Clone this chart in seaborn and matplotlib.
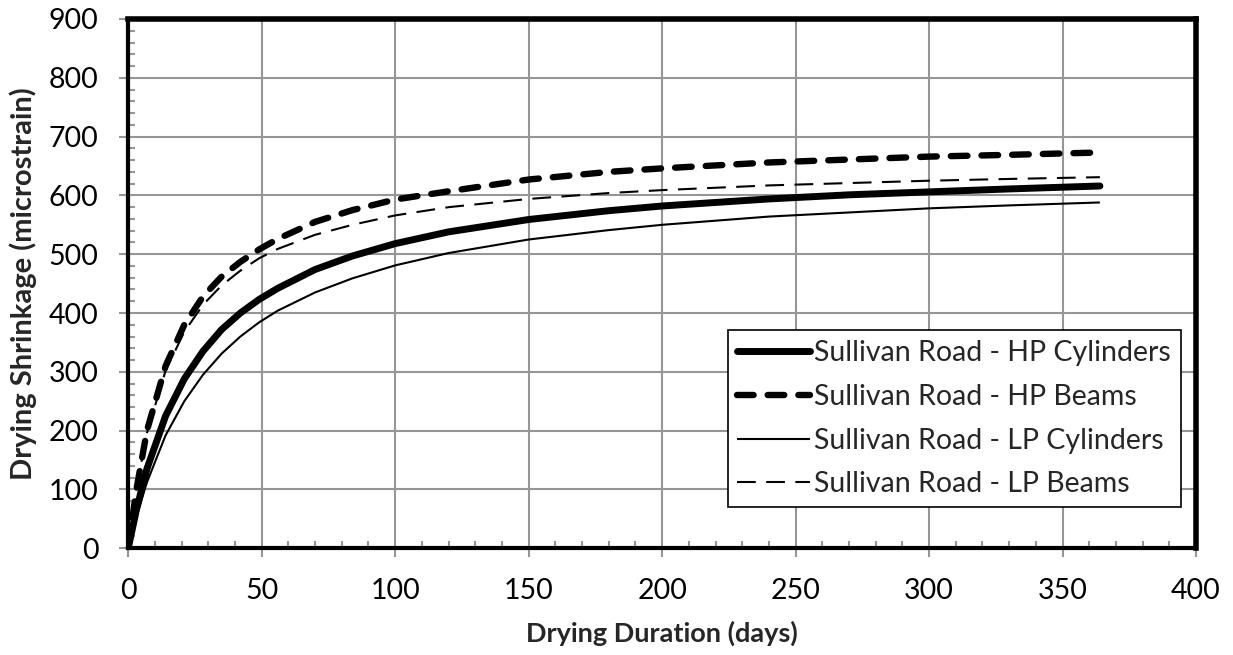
import matplotlib
matplotlib.use("Agg")
import matplotlib.pyplot as plt
import seaborn as sns
import pandas as pd
from matplotlib.ticker import MultipleLocator

days = [0, 3, 7, 14, 21, 28, 35, 42, 49, 56, 70, 84, 100, 120, 150, 180, 200, 240, 270, 300, 330, 364]
hp_cylinders = [0, 64, 135, 225, 288, 335, 372, 400, 423, 442, 474, 497, 518, 538, 559, 574, 582, 594, 601, 606, 611, 616]
hp_beams = [0, 98, 200, 310, 380, 428, 462, 487, 508, 526, 555, 575, 593, 607, 627, 640, 646, 656, 661, 666, 669, 673]
lp_cylinders = [0, 53, 112, 192, 250, 295, 331, 360, 384, 404, 435, 459, 481, 502, 525, 541, 550, 564, 571, 578, 583, 588]
lp_beams = [0, 100, 196, 302, 368, 414, 447, 472, 493, 509, 533, 550, 566, 580, 594, 604, 609, 617, 621, 625, 628, 631]

labels = ["Sullivan Road - HP Cylinders", "Sullivan Road - HP Beams",
          "Sullivan Road - LP Cylinders", "Sullivan Road - LP Beams"]
x_ticks = [0, 50, 100, 150, 200, 250, 300, 350, 400]
y_ticks = [0, 100, 200, 300, 400, 500, 600, 700, 800, 900]

sns.set_style("white")
plt.rcParams['font.family'] = ['Lato', 'DejaVu Sans']

fig = plt.figure(figsize=(12.33, 6.55), dpi=100)
ax = fig.add_axes([0.104, 0.163, 0.866, 0.808])

series = [hp_cylinders, hp_beams, lp_cylinders, lp_beams]
styles = [
    dict(lw=5.0, dashes=None),
    dict(lw=4.6, dashes=(2.6, 2.2)),
    dict(lw=1.5, dashes=None),
    dict(lw=1.5, dashes=(9, 5)),
]
for vals, lab, st in zip(series, labels, styles):
    df = pd.DataFrame({"day": days, "val": vals})
    sns.lineplot(data=df, x="day", y="val", ax=ax, color="black", linewidth=st["lw"],
                 label=lab, zorder=3)
    line = ax.get_lines()[-1]
    if st["dashes"] is not None:
        line.set_dashes(st["dashes"])
        line.set_dash_capstyle("round" if st["lw"] > 3 else "butt")
    else:
        line.set_solid_capstyle("round" if st["lw"] > 3 else "butt")

ax.set_xlim(0, 400)
ax.set_ylim(0, 900)
ax.set_xticks(x_ticks)
ax.set_yticks(y_ticks)
ax.set_xticklabels([str(v) for v in x_ticks])
ax.set_yticklabels([str(v) for v in y_ticks])
ax.xaxis.set_minor_locator(MultipleLocator(10))
ax.yaxis.set_minor_locator(MultipleLocator(20))
ax.grid(True, which="major", color="#969696", linewidth=1.5, zorder=0)
ax.set_axisbelow(True)

ax.tick_params(axis="both", which="major", direction="out", length=6.5, width=1.5,
               color="#969696", labelsize=20.5, labelcolor="black", pad=15,
               bottom=True, left=True)
ax.tick_params(axis="both", which="minor", direction="in", length=5, width=1.5,
               color="#969696", bottom=True, left=True)

for side in ["top", "right", "left", "bottom"]:
    ax.spines[side].set_visible(True)
    ax.spines[side].set_color("black")
ax.spines["top"].set_linewidth(4.0)
ax.spines["right"].set_linewidth(4.0)
ax.spines["left"].set_linewidth(3.0)
ax.spines["bottom"].set_linewidth(3.0)

ax.set_xlabel("Drying Duration (days)", fontsize=19.5, fontweight="bold", labelpad=12)
ax.set_ylabel("Drying Shrinkage (microstrain)", fontsize=21, fontweight="bold", labelpad=8)

leg = ax.legend(loc="lower right", bbox_to_anchor=(0.986, 0.0775), fontsize=20.5,
                frameon=True, fancybox=False, edgecolor="black", framealpha=1,
                handlelength=2.55, handletextpad=0.15, labelspacing=0.62,
                borderpad=0.35, borderaxespad=0)
leg.get_frame().set_linewidth(1.2)

fig.savefig("out.png", dpi=100)
